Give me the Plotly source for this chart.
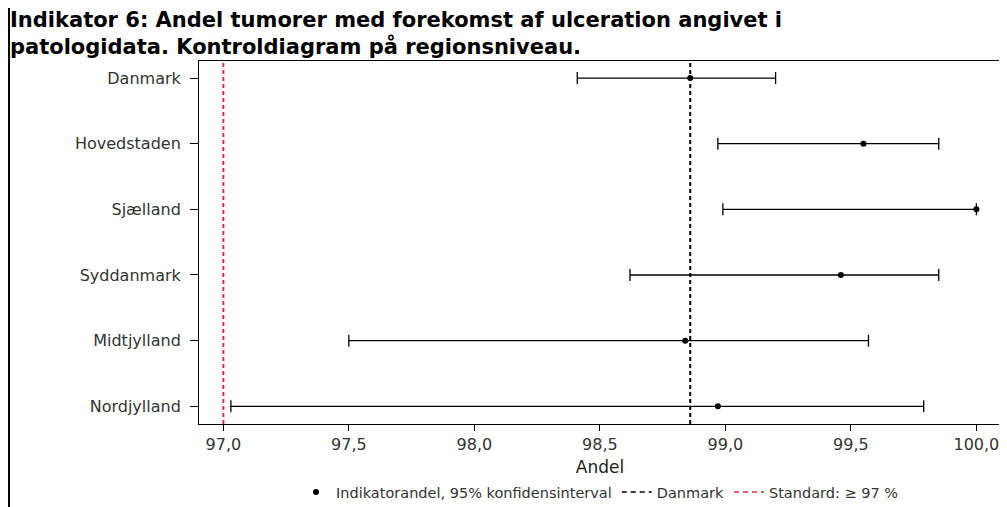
import plotly.graph_objects as go

regions = ["Danmark", "Hovedstaden", "Sjælland", "Syddanmark", "Midtjylland", "Nordjylland"]
andel = [98.86, 99.55, 100.0, 99.46, 98.84, 98.97]
ci_lower = [98.41, 98.97, 98.99, 98.62, 97.50, 97.03]
ci_upper = [99.20, 99.85, 100.0, 99.85, 99.57, 99.79]
danmark_value = 98.86
standard_value = 97.0
x_ticks = [97.0, 97.5, 98.0, 98.5, 99.0, 99.5, 100.0]

err_plus = [u - a for u, a in zip(ci_upper, andel)]
err_minus = [a - l for a, l in zip(andel, ci_lower)]

RED = "#dc2f3a"

fig = go.Figure()
fig.add_trace(go.Scatter(
    x=andel, y=regions, mode="markers",
    marker=dict(color="black", size=6),
    error_x=dict(type="data", symmetric=False, array=err_plus, arrayminus=err_minus,
                 color="black", thickness=1.3, width=6),
    name="Indikatorandel, 95% konfidensinterval",
))
fig.add_trace(go.Scatter(
    x=[None], y=[None], mode="lines",
    line=dict(color="black", dash="5px,4px", width=1.5),
    name="Danmark",
))
fig.add_trace(go.Scatter(
    x=[None], y=[None], mode="lines",
    line=dict(color=RED, dash="5px,4px", width=1.5),
    name="Standard: ≥ 97 %",
))

fig.add_shape(type="line", xref="x", yref="paper", x0=danmark_value, x1=danmark_value,
              y0=0, y1=1, line=dict(color="black", dash="4px,3px", width=2), layer="below")
fig.add_shape(type="line", xref="x", yref="paper", x0=standard_value, x1=standard_value,
              y0=0, y1=1, line=dict(color=RED, dash="4px,3px", width=2), layer="below")
# outer frame line on the left edge of the image
fig.add_shape(type="line", xref="paper", yref="paper", x0=-0.2369, x1=-0.2369,
              y0=-0.3, y1=1.2, line=dict(color="black", width=2))

fig.add_annotation(
    text="<b>Indikator 6: Andel tumorer med forekomst af ulceration angivet i<br>patologidata. Kontroldiagram på regionsniveau.</b>",
    xref="paper", yref="paper", x=-0.238, y=1.152, xanchor="left", yanchor="top",
    align="left", showarrow=False,
    font=dict(family="DejaVu Sans", size=21, color="black"),
)

fig.update_layout(
    width=999, height=515,
    margin=dict(l=191, r=6, t=53, b=99),
    paper_bgcolor="white", plot_bgcolor="white",
    separators=",.",
    font=dict(family="DejaVu Sans", color="#222"),
    xaxis=dict(
        range=[96.903, 100.098], tickvals=x_ticks, tickformat=".1f",
        automargin=False,
        showgrid=False, zeroline=False, showline=True, linecolor="black", linewidth=1,
        mirror=True, ticks="outside", ticklen=6, tickcolor="black",
        tickfont=dict(size=16, color="#333"),
        title=dict(text="Andel", font=dict(size=17, color="#222"), standoff=7),
    ),
    yaxis=dict(
        type="category", categoryorder="array", categoryarray=regions,
        range=[5.27, -0.26], automargin=False,
        showgrid=False, zeroline=False, showline=True, linecolor="black", linewidth=1,
        mirror=True, ticks="outside", ticklen=8, tickcolor="black",
        ticklabelstandoff=6,
        tickfont=dict(size=16, color="#333"),
    ),
    legend=dict(orientation="h", x=0.5, xanchor="center", y=-0.1433, yanchor="top",
                font=dict(size=14.5, color="#333")),
    showlegend=True,
)

fig.write_html("out.html")
